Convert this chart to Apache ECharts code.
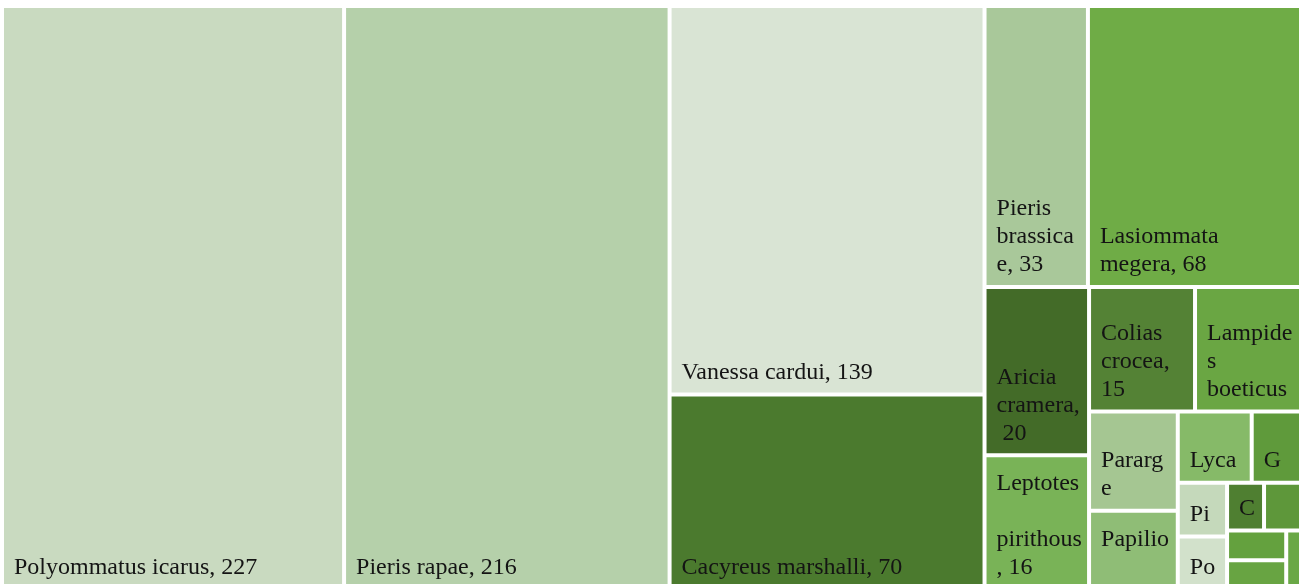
<!DOCTYPE html>
<html>
<head>
<meta charset="utf-8">
<title>Butterfly species treemap</title>
<script src="https://cdn.jsdelivr.net/npm/echarts@6/dist/echarts.min.js"></script>
<style>
  html, body { margin: 0; padding: 0; background: #fff; }
  #chart { width: 1306px; height: 584px; }
</style>
</head>
<body>
<div id="chart"></div>
<script>
// species, in the order the tiles are laid out (squarify runs in this order)
const species = [
  'Polyommatus icarus', 'Pieris rapae', 'Vanessa cardui', 'Cacyreus marshalli',
  'Pieris brassicae', 'Lasiommata megera', 'Aricia cramera', 'Leptotes pirithous',
  'Colias crocea', 'Lampides boeticus', 'Pararge aegeria', 'Papilio machaon',
  'Lycaena phlaeas', 'Gonepteryx cleopatra', 'Pieris napi', 'Pontia edusa',
  'Charaxes jasius', 'Danaus chrysippus', 'Gonepteryx rhamni', 'Iphiclides podalirius',
  'Vanessa atalanta'
];
const counts = [
  227, 216, 139, 70,
  33, 68, 20, 16,
  15, 15, 10, 8,
  6, 4, 3, 3,
  2, 2, 2, 2,
  1
];
// one fill per tile
const tileColors = [
  '#c9dac0', '#b5d0aa', '#d9e4d4', '#4b7a2e',
  '#a9c89a', '#6fac46', '#436b28', '#79b357',
  '#548235', '#6aa643', '#a5c692', '#8fbd76',
  '#86ba68', '#5f9a3b', '#c5d9bb', '#d2e1cb',
  '#4f7f31', '#5e973a', '#64a13e', '#68a442',
  '#6aa846'
];

const chart = echarts.init(document.getElementById('chart'));

const treeData = species.map((name, i) => ({
  name: name,
  value: counts[i],
  itemStyle: { color: tileColors[i] }
}));

const option = {
  animation: false,
  series: [
    {
      type: 'treemap',
      left: 4,
      top: 8,
      width: 1295,
      height: 580,
      roam: false,
      nodeClick: false,
      sort: false,
      squareRatio: 1,
      visibleMin: 0,
      breadcrumb: { show: false },
      silent: true,
      levels: [
        {
          itemStyle: { borderWidth: 0, gapWidth: 4, borderColor: '#fff' }
        },
        {
          itemStyle: { borderWidth: 0, gapWidth: 0 }
        }
      ],
      label: {
        show: true,
        position: 'insideBottomLeft',
        distance: 6,
        padding: [14, 12, 0, 4],
        formatter: '{b}, {c}',
        color: '#141414',
        fontFamily: '"Liberation Serif", "Times New Roman", serif',
        fontSize: 24,
        lineHeight: 28,
        overflow: 'break',
        lineOverflow: 'truncate',
        ellipsis: '…'
      },
      data: treeData
    }
  ]
};
chart.setOption(option);
</script>
</body>
</html>
